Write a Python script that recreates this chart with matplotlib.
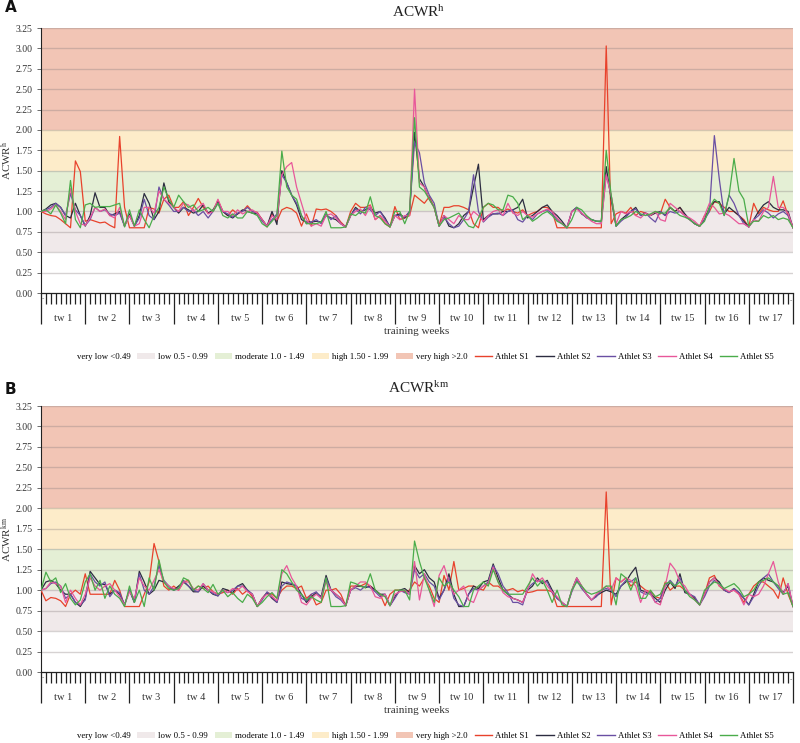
import matplotlib
matplotlib.use('Agg')
import matplotlib.pyplot as plt
from matplotlib.patches import Patch
from matplotlib.lines import Line2D
from matplotlib.transforms import blended_transform_factory
import numpy as np

plt.rcParams['font.family'] = ['Liberation Serif', 'DejaVu Serif']
plt.rcParams['mathtext.fontset'] = 'custom'
plt.rcParams['mathtext.rm'] = 'Liberation Serif'
plt.rcParams['mathtext.it'] = 'Liberation Serif:italic'

weeks = [f'tw {i}' for i in range(1, 18)]
sessions_per_week = 9
athletes = ['Athlet S1', 'Athlet S2', 'Athlet S3', 'Athlet S4', 'Athlet S5']
zones = ['very low <0.49', 'low 0.5 - 0.99', 'moderate 1.0 - 1.49', 'high 1.50 - 1.99', 'very high >2.0']
zone_limits = [0.0, 0.5, 1.0, 1.5, 2.0, 3.25]

# ---------------- Panel A : ACWR (hours) ----------------
a_s1 = [1.00,
        0.97, 0.95, 0.94, 0.90, 0.85, 0.80, 1.62, 1.49, 0.88,
        0.90, 0.88, 0.86, 0.87, 0.83, 0.80, 1.92, 1.05, 0.80,
        0.80, 0.80, 0.80, 1.05, 1.03, 0.98, 1.15, 1.20, 1.05,
        1.05, 1.12, 0.95, 1.05, 1.16, 1.05, 0.98, 1.00, 1.14,
        1.00, 0.95, 1.02, 0.97, 1.00, 1.07, 1.00, 0.99, 0.90,
        0.81, 0.97, 0.88, 1.02, 1.05, 1.03, 0.98, 0.82, 0.97,
        0.82, 1.03, 1.02, 1.03, 1.00, 0.95, 0.87, 0.81, 1.00,
        1.10, 1.05, 1.05, 1.08, 0.90, 0.95, 0.85, 0.81, 1.06,
        0.90, 0.92, 0.95, 1.20, 1.15, 1.10, 1.18, 1.05, 0.83,
        1.05, 1.05, 1.07, 1.07, 1.05, 1.02, 0.85, 0.80, 1.05,
        1.10, 1.05, 1.05, 1.00, 1.03, 1.00, 0.98, 1.02, 0.95,
        0.98, 1.00, 1.05, 1.05, 1.00, 0.80, 0.80, 0.80, 0.80,
        0.80, 0.80, 0.80, 0.80, 0.80, 0.80, 3.03, 0.85, 0.97,
        1.00, 0.98, 1.05, 0.95, 1.00, 0.98, 0.95, 1.00, 0.97,
        1.15, 1.05, 1.00, 1.05, 0.95, 0.90, 0.85, 0.82, 0.95,
        1.00, 1.12, 1.10, 1.05, 1.00, 1.00, 0.95, 0.90, 0.81,
        1.10, 0.97, 1.05, 1.02, 1.00, 1.00, 1.13, 0.95, 0.80]
a_s2 = [1.00,
        1.03, 1.08, 1.10, 1.05, 0.95, 0.92, 1.10, 0.95, 0.82,
        0.95, 1.23, 1.05, 1.05, 0.95, 0.97, 1.00, 0.82, 0.97,
        0.82, 0.95, 1.22, 1.10, 0.90, 1.00, 1.35, 1.12, 1.05,
        0.98, 1.05, 1.02, 0.98, 1.00, 1.08, 0.98, 1.02, 1.12,
        1.00, 0.95, 0.92, 0.97, 1.02, 1.00, 0.98, 0.97, 0.90,
        0.82, 1.00, 0.84, 1.50, 1.35, 1.20, 1.08, 0.90, 0.87,
        0.87, 0.88, 0.87, 0.95, 0.92, 0.90, 0.85, 0.81, 0.95,
        1.05, 1.00, 1.02, 1.05, 0.98, 1.00, 0.92, 0.81, 0.95,
        0.97, 0.92, 1.00, 1.97, 1.40, 1.30, 1.15, 1.05, 0.82,
        0.95, 0.82, 0.80, 0.85, 0.95, 1.00, 1.30, 1.58, 0.90,
        0.95, 0.97, 0.97, 1.00, 1.00, 1.02, 1.05, 1.15, 0.92,
        0.95, 1.00, 1.05, 1.08, 1.00, 0.95, 0.88, 0.80, 1.00,
        1.05, 0.97, 0.93, 0.90, 0.88, 0.88, 1.55, 1.15, 0.82,
        0.90, 0.95, 1.00, 1.05, 0.95, 0.98, 0.95, 0.98, 1.00,
        0.95, 1.05, 1.00, 1.05, 0.97, 0.90, 0.85, 0.82, 0.90,
        1.05, 1.12, 1.12, 0.97, 1.05, 1.00, 0.95, 0.88, 0.81,
        0.90, 1.00, 1.08, 1.12, 1.05, 1.02, 1.02, 1.00, 0.80]
a_s3 = [1.00,
        1.02, 1.05, 1.10, 1.05, 0.95, 1.22, 1.02, 0.95, 0.83,
        0.90, 1.05, 1.00, 1.02, 0.97, 0.95, 0.98, 0.82, 0.95,
        0.82, 0.92, 1.15, 0.95, 0.90, 1.30, 1.15, 1.08, 1.00,
        1.00, 1.05, 1.00, 1.02, 0.95, 1.00, 0.92, 1.00, 1.10,
        1.00, 0.97, 0.93, 0.98, 1.00, 1.05, 1.00, 0.98, 0.88,
        0.82, 0.90, 0.97, 1.45, 1.35, 1.20, 1.10, 0.95, 0.85,
        0.87, 0.90, 0.85, 0.97, 0.90, 0.95, 0.85, 0.81, 0.95,
        1.03, 0.97, 1.05, 1.02, 0.95, 1.00, 0.90, 0.82, 0.95,
        0.95, 0.93, 1.00, 1.85, 1.72, 1.35, 1.20, 1.10, 0.82,
        0.93, 0.85, 0.80, 0.82, 0.90, 1.00, 1.45, 1.00, 0.87,
        0.93, 0.97, 0.98, 0.95, 1.00, 1.02, 0.90, 0.87, 0.95,
        0.90, 0.97, 1.00, 1.02, 0.97, 0.90, 0.85, 0.80, 1.00,
        1.05, 0.98, 0.92, 0.90, 0.88, 0.87, 1.45, 1.20, 0.82,
        0.88, 0.93, 1.00, 1.03, 0.95, 0.98, 0.92, 0.87, 1.00,
        0.95, 1.00, 0.98, 1.00, 0.95, 0.90, 0.85, 0.82, 0.90,
        1.00, 1.93, 1.40, 0.95, 1.20, 1.10, 0.95, 0.85, 0.81,
        0.90, 0.95, 1.02, 0.98, 0.92, 0.97, 1.00, 0.95, 0.80]
a_s4 = [1.00,
        1.00, 1.03, 1.08, 1.00, 0.90, 1.28, 1.00, 0.85, 0.83,
        0.92, 1.05, 1.00, 1.03, 0.95, 0.92, 1.05, 0.82, 0.95,
        0.82, 0.85, 1.05, 1.05, 0.98, 1.25, 1.15, 1.10, 1.05,
        1.00, 1.10, 1.08, 1.00, 1.05, 1.10, 0.97, 1.00, 1.15,
        1.00, 1.00, 0.95, 1.02, 0.97, 1.00, 1.02, 0.98, 0.90,
        0.82, 0.95, 0.90, 1.45, 1.55, 1.60, 1.30, 1.10, 0.90,
        0.82, 0.85, 0.82, 0.95, 0.97, 0.92, 0.85, 0.81, 0.95,
        1.00, 1.03, 0.95, 1.07, 0.90, 0.95, 0.88, 0.81, 0.95,
        0.90, 0.95, 0.95, 2.50, 1.35, 1.30, 1.15, 1.05, 0.82,
        0.95, 0.90, 0.85, 0.95, 0.90, 0.90, 1.00, 0.95, 0.88,
        0.95, 1.00, 1.02, 0.95, 1.10, 0.98, 0.95, 1.00, 0.95,
        0.93, 0.97, 1.00, 1.03, 1.00, 0.92, 0.85, 0.80, 1.00,
        1.03, 0.98, 0.93, 0.88, 0.85, 0.85, 1.45, 1.20, 0.85,
        1.00, 0.97, 1.00, 0.95, 0.92, 0.98, 0.95, 1.00, 0.90,
        0.88, 1.10, 1.05, 1.00, 0.95, 0.92, 0.88, 0.82, 0.95,
        1.10, 1.05, 0.97, 0.98, 0.95, 0.90, 0.85, 0.85, 0.81,
        0.90, 0.88, 1.00, 1.05, 1.43, 1.05, 1.05, 0.98, 0.80]
a_s5 = [1.00,
        1.02, 0.97, 1.08, 0.98, 0.85, 1.38, 0.90, 0.80, 1.08,
        1.10, 1.05, 1.06, 1.06, 1.06, 1.08, 1.10, 0.81, 1.02,
        0.82, 1.02, 0.90, 0.80, 0.95, 1.05, 1.30, 1.15, 1.05,
        1.20, 1.12, 1.05, 1.08, 1.00, 1.02, 1.05, 1.00, 1.10,
        0.95, 0.92, 0.97, 0.92, 0.92, 1.00, 0.98, 0.95, 0.85,
        0.81, 0.88, 0.95, 1.74, 1.30, 1.20, 1.15, 0.95, 0.85,
        0.85, 0.85, 0.87, 1.00, 0.80, 0.80, 0.80, 0.81, 0.97,
        0.95, 1.00, 0.98, 1.18, 0.95, 0.92, 0.85, 0.81, 1.00,
        1.00, 0.85, 1.00, 2.15, 1.30, 1.25, 1.15, 1.05, 0.82,
        0.90, 0.92, 0.95, 0.98, 0.90, 0.82, 0.80, 0.92, 1.05,
        1.10, 1.08, 1.02, 1.02, 1.20, 1.18, 1.10, 0.90, 0.95,
        0.88, 0.92, 0.97, 1.00, 0.95, 0.88, 0.85, 0.80, 0.90,
        1.05, 1.02, 0.95, 0.90, 0.88, 0.88, 1.75, 1.20, 0.82,
        0.90, 0.92, 0.95, 1.00, 0.97, 0.95, 0.97, 1.00, 0.98,
        0.98, 1.05, 1.00, 0.95, 0.93, 0.90, 0.85, 0.82, 0.88,
        1.05, 1.15, 1.10, 0.95, 1.20, 1.65, 1.25, 1.15, 0.82,
        0.88, 0.88, 0.95, 0.92, 0.95, 0.90, 0.92, 0.90, 0.80]

# ---------------- Panel B : ACWR (km) ----------------
b_s1 = [1.00,
        0.87, 0.91, 0.90, 0.87, 0.80, 0.95, 1.00, 0.95, 1.20,
        0.95, 0.95, 0.95, 0.95, 0.95, 1.12, 1.00, 0.80, 0.80,
        0.80, 0.80, 0.95, 1.10, 1.57, 1.35, 1.05, 1.00, 1.05,
        1.00, 1.10, 1.12, 1.00, 1.05, 1.02, 1.05, 0.98, 0.95,
        0.97, 1.00, 0.95, 1.02, 0.95, 1.00, 0.92, 0.80, 0.90,
        0.97, 0.95, 0.90, 1.00, 1.05, 1.05, 1.02, 1.05, 0.90,
        0.95, 0.82, 0.85, 1.00, 1.00, 1.02, 0.95, 0.81, 1.05,
        1.05, 1.05, 1.08, 1.05, 1.00, 0.95, 0.81, 0.95, 1.00,
        1.00, 0.98, 1.00, 1.10, 1.05, 1.15, 1.05, 0.90, 0.85,
        1.18, 1.00, 1.35, 1.00, 1.02, 1.05, 1.05, 1.02, 1.00,
        1.10, 1.05, 1.05, 1.00, 1.00, 1.02, 0.98, 1.00, 0.97,
        0.98, 1.00, 1.00, 1.00, 0.98, 0.80, 0.80, 0.80, 0.80,
        0.80, 0.80, 0.80, 0.80, 0.80, 0.80, 2.20, 0.82, 1.15,
        1.10, 1.15, 1.05, 1.10, 1.05, 1.00, 0.98, 0.92, 0.90,
        1.10, 1.00, 1.05, 1.05, 1.00, 0.95, 0.90, 0.82, 0.95,
        1.15, 1.18, 1.05, 1.00, 0.98, 1.00, 0.95, 0.85, 0.95,
        1.05, 1.10, 1.10, 1.05, 1.00, 0.90, 1.15, 0.95, 0.80]
b_s2 = [1.00,
        1.10, 1.12, 1.08, 1.00, 0.95, 0.95, 0.85, 0.80, 0.90,
        1.23, 1.15, 1.07, 1.07, 0.95, 1.00, 0.95, 0.82, 1.00,
        0.85, 1.23, 1.10, 0.95, 1.00, 1.12, 1.10, 1.05, 1.00,
        1.05, 1.10, 1.05, 0.98, 0.98, 1.05, 1.00, 0.95, 0.93,
        1.02, 1.00, 0.97, 1.05, 1.08, 1.00, 0.95, 0.80, 0.90,
        0.97, 0.90, 0.85, 1.10, 1.08, 1.07, 1.05, 0.95, 0.85,
        0.92, 0.97, 0.92, 1.18, 1.00, 0.95, 0.90, 0.81, 1.00,
        1.05, 1.05, 1.03, 1.05, 1.00, 0.95, 0.95, 0.81, 0.92,
        1.00, 1.02, 0.97, 1.30, 1.20, 1.25, 1.15, 1.10, 0.90,
        1.00, 1.20, 0.95, 0.80, 0.80, 0.95, 1.05, 1.02, 1.10,
        1.12, 1.32, 1.15, 1.00, 0.95, 0.90, 0.88, 0.85, 1.00,
        1.05, 1.15, 1.08, 1.12, 1.00, 0.90, 0.85, 0.80, 1.00,
        1.15, 1.05, 0.95, 0.88, 0.93, 0.97, 1.00, 0.98, 0.95,
        1.05, 1.10, 1.20, 1.28, 1.00, 0.98, 0.95, 0.90, 0.85,
        1.00, 1.10, 1.02, 1.20, 0.97, 0.95, 0.90, 0.82, 0.95,
        1.10, 1.15, 1.10, 1.00, 0.97, 1.02, 0.97, 0.90, 0.82,
        0.95, 1.10, 1.15, 1.12, 1.10, 1.05, 0.97, 1.05, 0.80]
b_s3 = [1.00,
        1.02, 1.08, 1.10, 1.05, 0.90, 0.95, 0.85, 0.82, 0.88,
        1.20, 1.10, 1.05, 1.10, 0.92, 1.00, 0.97, 0.82, 1.00,
        0.85, 1.20, 1.00, 0.95, 1.05, 1.30, 1.12, 1.05, 1.00,
        1.02, 1.12, 1.05, 1.00, 0.98, 1.08, 1.00, 0.96, 0.93,
        1.00, 0.97, 1.00, 1.05, 1.05, 1.00, 0.95, 0.80, 0.88,
        0.98, 0.92, 0.85, 1.05, 1.10, 1.08, 1.05, 0.90, 0.87,
        0.95, 0.98, 0.90, 1.15, 1.00, 0.92, 0.88, 0.81, 1.00,
        1.03, 1.00, 1.05, 1.03, 0.98, 0.92, 0.95, 0.81, 0.90,
        1.00, 0.97, 0.95, 1.25, 1.15, 1.20, 1.10, 1.05, 0.88,
        1.00, 1.15, 0.90, 0.82, 0.80, 0.95, 1.02, 1.00, 1.05,
        1.10, 1.30, 1.20, 1.05, 0.97, 0.85, 0.85, 0.82, 1.02,
        1.08, 1.12, 1.10, 1.10, 0.97, 0.90, 0.85, 0.80, 0.98,
        1.12, 1.02, 0.95, 0.88, 0.92, 1.00, 1.02, 1.00, 0.92,
        1.05, 1.12, 1.10, 1.15, 0.98, 0.95, 0.97, 0.85, 0.90,
        1.05, 1.12, 1.05, 1.15, 1.00, 0.95, 0.92, 0.82, 0.92,
        1.05, 1.12, 1.08, 1.00, 0.97, 1.02, 0.97, 0.90, 0.82,
        0.92, 1.05, 1.15, 1.20, 1.10, 1.02, 0.95, 1.08, 0.80]
b_s4 = [1.00,
        1.02, 1.10, 1.08, 1.05, 0.85, 1.00, 0.90, 0.82, 0.95,
        1.15, 1.05, 1.00, 1.05, 1.08, 1.00, 0.92, 0.82, 0.98,
        0.90, 1.15, 1.05, 1.00, 1.12, 1.25, 1.10, 1.05, 1.02,
        1.00, 1.10, 1.10, 1.02, 1.00, 1.08, 1.00, 0.98, 0.95,
        1.00, 0.97, 1.02, 1.00, 1.05, 0.98, 0.95, 0.80, 0.90,
        0.95, 0.92, 0.87, 1.20, 1.30, 1.15, 1.05, 0.85, 0.82,
        0.90, 0.95, 0.90, 1.10, 1.00, 0.95, 0.90, 0.81, 1.00,
        1.05, 1.10, 1.10, 1.05, 0.92, 0.90, 0.95, 0.81, 0.95,
        0.98, 1.00, 0.95, 1.35, 0.88, 1.20, 1.00, 0.80, 1.18,
        1.30, 1.10, 0.95, 1.00, 1.05, 0.88, 0.85, 1.00, 1.05,
        1.08, 1.28, 1.10, 0.97, 0.92, 0.90, 0.88, 0.85, 1.00,
        1.20, 1.10, 1.15, 1.05, 0.98, 0.92, 0.85, 0.80, 1.00,
        1.15, 1.05, 0.95, 0.88, 0.95, 1.00, 1.05, 1.00, 1.15,
        1.10, 1.15, 1.12, 1.05, 0.85, 1.00, 0.95, 0.85, 0.82,
        1.05, 1.33, 1.25, 1.10, 1.05, 0.95, 0.88, 0.82, 0.95,
        1.10, 1.15, 1.05, 1.02, 0.98, 1.00, 0.95, 0.82, 0.95,
        0.92, 0.95, 1.05, 1.20, 1.35, 1.10, 0.95, 1.08, 0.80]
b_s5 = [1.00,
        1.22, 1.10, 1.15, 0.97, 1.08, 0.90, 0.82, 0.88, 1.10,
        1.20, 1.00, 1.12, 0.90, 1.05, 0.95, 0.90, 0.80, 1.05,
        0.85, 1.00, 0.80, 1.15, 1.00, 1.37, 1.10, 1.02, 1.00,
        1.02, 1.15, 1.12, 1.00, 1.05, 1.02, 0.97, 1.07, 0.95,
        1.00, 0.92, 0.97, 0.90, 0.85, 0.95, 0.90, 0.80, 0.85,
        0.92, 0.97, 0.90, 1.25, 1.20, 1.10, 1.00, 0.95, 0.88,
        0.92, 0.88, 0.85, 1.15, 0.80, 0.80, 0.80, 0.81, 1.10,
        1.08, 1.05, 1.03, 1.20, 1.00, 0.95, 0.92, 0.81, 1.00,
        1.00, 1.00, 0.88, 1.60, 1.35, 1.15, 1.00, 0.85, 1.15,
        1.05, 1.10, 1.00, 0.92, 0.80, 0.80, 1.00, 1.05, 1.10,
        1.05, 1.25, 1.10, 1.00, 0.95, 0.95, 0.95, 0.95, 1.05,
        1.15, 1.05, 1.12, 1.00, 0.85, 1.00, 0.82, 0.80, 1.00,
        1.10, 1.05, 0.98, 0.95, 0.97, 1.00, 1.05, 1.05, 0.82,
        1.20, 1.15, 1.00, 1.15, 0.90, 0.90, 1.00, 0.92, 0.95,
        1.08, 1.10, 1.05, 1.10, 1.00, 0.92, 0.88, 0.82, 1.00,
        1.05, 1.10, 1.08, 1.02, 1.05, 1.08, 1.02, 0.92, 0.95,
        1.00, 1.10, 1.12, 1.15, 1.10, 1.05, 0.95, 0.97, 0.80]

line_colors = ['#e8422c', '#2c2c40', '#6a4fa3', '#e8579a', '#4aac4a']
zone_colors = ['#ffffff', '#f0e9ea', '#e4efd5', '#fdecc9', '#f2c5b5']

W, H = 800, 743
fig = plt.figure(figsize=(W / 100, H / 100), dpi=100)


def px_axes(left, top, right, bottom):
    return fig.add_axes([left / W, 1 - bottom / H, (right - left) / W, (bottom - top) / H])


def draw_panel(ax, series, sup, title_y, letter, letter_y):
    n = len(series[0])
    x = np.arange(n)
    ax.set_xlim(0, n - 1)
    ax.set_ylim(0, 3.25)
    for i in range(1, len(zone_colors)):
        ax.axhspan(zone_limits[i], zone_limits[i + 1], color=zone_colors[i], zorder=0, lw=0)
    for yv in np.arange(0.25, 3.26, 0.25):
        ax.axhline(yv, color='#8a8080', alpha=0.35, lw=1.0, zorder=1)
    for vals, c in zip(series, line_colors):
        ax.plot(x, vals, color=c, lw=0.9, zorder=3)

    for s in ['top', 'right']:
        ax.spines[s].set_visible(False)
    ax.spines['left'].set_color('#222222')
    ax.spines['left'].set_linewidth(0.8)
    ax.spines['bottom'].set_color('#222222')
    ax.spines['bottom'].set_linewidth(0.9)

    yt = np.arange(0, 3.26, 0.25)
    ax.set_yticks(yt)
    ax.set_yticklabels([f'{v:.2f}' for v in yt], fontsize=7, color='#333333')
    ax.tick_params(axis='y', length=3, width=0.6, color='#555555', pad=3)

    nweeks = len(weeks)
    boundaries = [w * sessions_per_week for w in range(nweeks + 1)]
    ax.set_xticks(boundaries)
    ax.set_xticklabels([''] * len(boundaries))
    ax.set_xticks([i for i in range(n) if i not in boundaries], minor=True)
    ax.tick_params(axis='x', which='major', length=22, width=0.9, color='#222222', direction='out')
    ax.tick_params(axis='x', which='minor', length=8, width=0.9, color='#222222', direction='out')

    tr = blended_transform_factory(ax.transData, ax.transAxes)
    for w, lab in enumerate(weeks):
        cx = (w + 0.5) * sessions_per_week
        ax.annotate(lab, xy=(cx, 0), xycoords=tr, xytext=(0, -18.5), textcoords='offset points',
                    ha='center', va='center', fontsize=7.5, color='#333333')
    ax.annotate('-', xy=(0, 0), xycoords=tr, xytext=(1.2, -4.5), textcoords='offset points',
                ha='center', va='center', fontsize=5, color='#555555')
    ax.annotate('-', xy=(n - 1, 0), xycoords=tr, xytext=(-1.5, -5.5), textcoords='offset points',
                ha='center', va='center', fontsize=5, color='#555555')
    ax.annotate('training weeks', xy=(0.5, 0), xycoords='axes fraction', xytext=(0, -28),
                textcoords='offset points', ha='center', va='center', fontsize=8, color='#333333')

    ax.set_ylabel('ACWR$^{\\mathrm{' + sup + '}}$', fontsize=8, color='#333333')
    ax.yaxis.set_label_coords(-0.036, 0.5)

    fig.text(419 / W, 1 - title_y / H, 'ACWR$^{\\mathrm{' + sup + '}}$', ha='center', va='center',
             fontsize=11, color='#222222')
    fig.text(5 / W, 1 - letter_y / H, letter, ha='left', va='center', fontsize=11,
             fontweight='bold', family='DejaVu Sans', color='#111111')


def legend(y):
    handles = [Patch(facecolor=c, edgecolor='none') for c in zone_colors]
    handles += [Line2D([0], [0], color=c, lw=1.0) for c in line_colors]
    fig.legend(handles, zones + athletes, loc='center', bbox_to_anchor=(415 / W, 1 - y / H),
               ncol=10, frameon=False, fontsize=6.3, handlelength=2.0, handleheight=0.6,
               columnspacing=0.8, handletextpad=0.35)


axA = px_axes(41, 28, 793, 293)
draw_panel(axA, [a_s1, a_s2, a_s3, a_s4, a_s5], 'h', 12, 'A', 8)
legend(357)

axB = px_axes(41, 406, 793, 672)
draw_panel(axB, [b_s1, b_s2, b_s3, b_s4, b_s5], 'km', 388, 'B', 390)
legend(736)

fig.savefig('out.png', dpi=100, facecolor='white')
